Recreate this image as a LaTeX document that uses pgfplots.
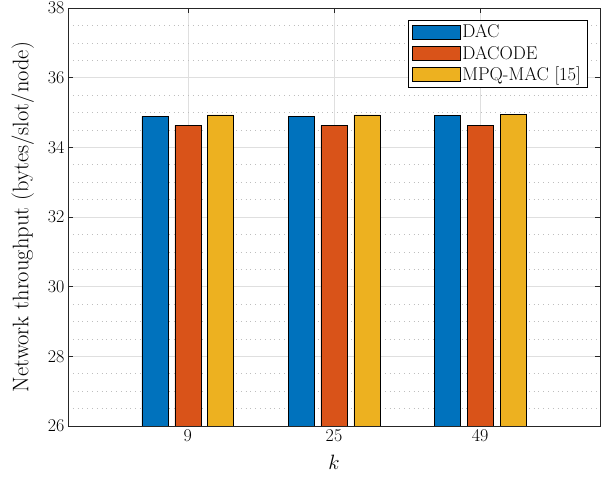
\documentclass[border=0pt]{standalone}
\usepackage{fontspec}
\usepackage{pgfplots}
\pgfplotsset{compat=1.18}
\definecolor{c1}{rgb}{0,0.447,0.741}
\definecolor{c2}{rgb}{0.85,0.325,0.098}
\definecolor{c3}{rgb}{0.929,0.694,0.125}
\definecolor{axc}{RGB}{38,38,38}
\definecolor{gridc}{RGB}{223,223,223}
\definecolor{mgridc}{RGB}{190,190,190}
\begin{document}
\begin{tikzpicture}
\begin{axis}[
  name=ax,
  scale only axis,
  width=532pt, height=418pt,
  xmin=0.18, xmax=3.82,
  ymin=26, ymax=38,
  xtick={1,2,3},
  xticklabels={9,25,49},
  ytick={26,28,...,38},
  minor y tick num=3,
  grid=both,
  major grid style={gridc, line width=0.6pt},
  minor grid style={mgridc, dash pattern=on 0.8pt off 4pt, line width=0.6pt},
  axis line style={axc, line width=0.6pt},
  tick style={axc, line width=0.6pt},
  tick align=inside,
  major tick length=5pt,
  minor tick length=0pt,
  /pgf/number format/assume math mode=true,
  ticklabel style={font=\fontsize{18}{21}\selectfont, text=black},
  xlabel={$k$},
  ylabel={Network throughput (bytes/slot/node)},
  xlabel style={font=\fontsize{20}{24}\selectfont, yshift=-6pt},
  ylabel style={font=\fontsize{22.5}{27}\selectfont, yshift=7pt},
  legend style={at={(0.9756,0.971)}, anchor=north east, draw=black, line width=0.5pt,
    font=\fontsize{18.5}{22}\selectfont, cells={anchor=west}, row sep=2.5pt,
    inner xsep=4pt, inner ysep=2.5pt},
  legend image code/.code={\draw[#1, draw=black] (0pt,-7pt) rectangle (48pt,7pt);},
]
\addplot[ybar, bar width=0.178, bar shift=-0.225, fill=c1, draw=black, line width=0.5pt]
  coordinates {(1,34.89) (2,34.89) (3,34.91)};
\addplot[ybar, bar width=0.178, bar shift=0, fill=c2, draw=black, line width=0.5pt]
  coordinates {(1,34.63) (2,34.63) (3,34.64)};
\addplot[ybar, bar width=0.178, bar shift=0.225, fill=c3, draw=black, line width=0.5pt]
  coordinates {(1,34.93) (2,34.93) (3,34.95)};
\legend{DAC, DACODE, MPQ-MAC [15]}
\end{axis}
\pgfresetboundingbox
\path ([shift={(-68pt,-57pt)}]ax.south west) rectangle ([shift={(10pt,8pt)}]ax.north east);
\end{tikzpicture}
\end{document}
